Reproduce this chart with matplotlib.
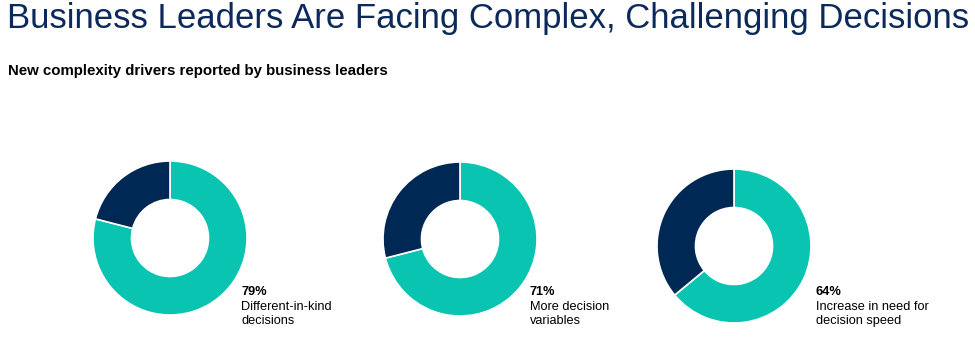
import matplotlib.pyplot as plt

plt.rcParams['font.family'] = ['Liberation Sans', 'DejaVu Sans']

# data
shares = [79, 71, 64]
pct_labels = ['79%', '71%', '64%']
desc_labels = ['Different-in-kind\ndecisions', 'More decision\nvariables', 'Increase in need for\ndecision speed']

teal = '#08C4B1'
navy = '#002855'

W, H = 975, 353
fig = plt.figure(figsize=(W / 100, H / 100), dpi=100)

fig.text(7 / W, 1 - 2 / H, 'Business Leaders Are Facing Complex, Challenging Decisions',
         fontsize=25, color='#0B2A5B', ha='left', va='top')
fig.text(8 / W, 1 - 64 / H, 'New complexity drivers reported by business leaders',
         fontsize=10.8, fontweight='bold', color='black', ha='left', va='top')

# donut centres / radius in pixels
centres = [(170, 238), (460, 239), (734, 246)]
radius = 77
label_x = [241, 530, 816]

for i, v in enumerate(shares):
    cx, cy = centres[i]
    ax = fig.add_axes([(cx - radius) / W, (H - cy - radius) / H, 2 * radius / W, 2 * radius / H])
    ax.pie([v, 100 - v], colors=[teal, navy], startangle=90, counterclock=False,
           radius=1, wedgeprops=dict(width=0.5, edgecolor='white', linewidth=1.2))
    ax.set_xlim(-1, 1)
    ax.set_ylim(-1, 1)
    ax.axis('off')

    fig.text(label_x[i] / W, 1 - 286 / H, pct_labels[i], fontsize=9.2, fontweight='bold',
             ha='left', va='top')
    fig.text(label_x[i] / W, 1 - 301 / H, desc_labels[i], fontsize=9.2, ha='left', va='top',
             linespacing=1.25)

fig.savefig('out.png', dpi=100)
